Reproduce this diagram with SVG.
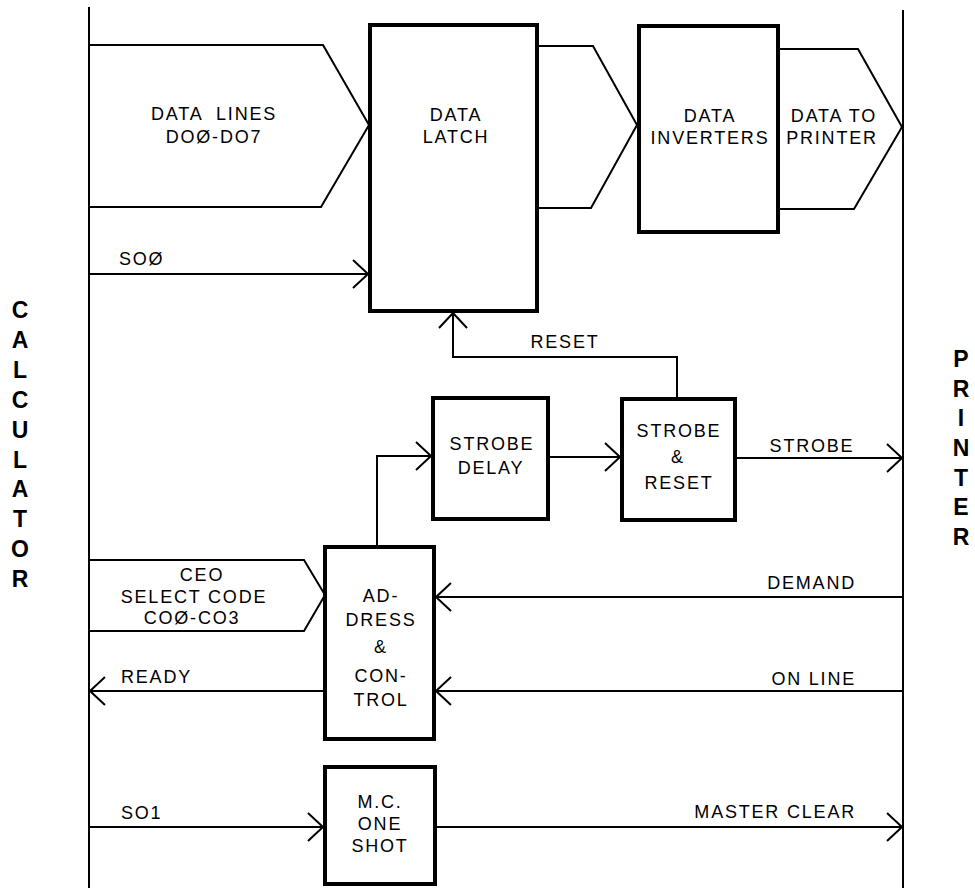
<svg xmlns="http://www.w3.org/2000/svg" width="975" height="888" viewBox="0 0 975 888">
<style>
.bx{fill:#fff;stroke:#000;stroke-width:4}
.pg{fill:none;stroke:#000;stroke-width:2;stroke-linejoin:miter}
.ln{fill:none;stroke:#000;stroke-width:2}
.ar{fill:none;stroke:#000;stroke-width:2;marker-end:url(#a)}
text{font-family:"Liberation Sans",Arial,sans-serif;font-size:18px;letter-spacing:1.8px;fill:#000}
.c{text-anchor:middle}
.r{text-anchor:end}
.pre{white-space:pre}
.side{font-size:23px;font-weight:bold;letter-spacing:0;text-anchor:middle}
</style>
<defs>
<marker id="a" markerWidth="20" markerHeight="32" refX="16" refY="15" orient="auto" markerUnits="userSpaceOnUse" overflow="visible">
<path d="M1,1 L16,15 L1,29" fill="none" stroke="#000" stroke-width="2"/>
</marker>
</defs>

<g id="borders">
<line class="ln" x1="89" y1="7" x2="89" y2="888"/>
<line class="ln" x1="903" y1="10" x2="903" y2="888"/>
</g>

<g id="calculator">
<text class="side" x="20" y="318">C</text>
<text class="side" x="20" y="348">A</text>
<text class="side" x="20" y="378">L</text>
<text class="side" x="20" y="408">C</text>
<text class="side" x="20" y="438">U</text>
<text class="side" x="20" y="468">L</text>
<text class="side" x="20" y="497">A</text>
<text class="side" x="20" y="527">T</text>
<text class="side" x="20" y="557">O</text>
<text class="side" x="20" y="587">R</text>
</g>

<g id="printer">
<text class="side" x="961" y="367">P</text>
<text class="side" x="961" y="397">R</text>
<text class="side" x="961" y="426">I</text>
<text class="side" x="961" y="456">N</text>
<text class="side" x="961" y="486">T</text>
<text class="side" x="961" y="515">E</text>
<text class="side" x="961" y="545">R</text>
</g>

<g id="data-lines">
<polyline class="pg" points="89,45 323,45 369,125 321,207 89,207"/>
<text class="c pre" x="214" y="120" xml:space="preserve">DATA  LINES</text>
<text class="c" x="214" y="143">DOØ-DO7</text>
</g>

<g id="latch-to-inverters">
<polyline class="pg" points="537,46 593,46 637,125 591,208 537,208"/>
</g>

<g id="data-to-printer">
<polyline class="pg" points="778,49 858,49 902,127 854,209 778,209"/>
<text class="c" x="834" y="122">DATA TO</text>
<text class="c" x="832" y="144">PRINTER</text>
</g>

<g id="data-latch">
<rect class="bx" x="370" y="25" width="167" height="286"/>
<text class="c" x="456" y="121">DATA</text>
<text class="c" x="456" y="143">LATCH</text>
</g>

<g id="data-inverters">
<rect class="bx" x="639" y="26" width="139" height="206"/>
<text class="c" x="710" y="122">DATA</text>
<text class="c" x="710" y="144">INVERTERS</text>
</g>

<g id="strobe-delay">
<rect class="bx" x="433" y="398" width="115" height="121"/>
<text class="c" x="492" y="450">STROBE</text>
<text class="c" x="491" y="474">DELAY</text>
</g>

<g id="strobe-reset">
<rect class="bx" x="622" y="399" width="113" height="121"/>
<text class="c" x="679" y="437">STROBE</text>
<text class="c" x="678" y="463">&amp;</text>
<text class="c" x="679" y="489">RESET</text>
</g>

<g id="ceo-select-code">
<polyline class="pg" points="89,560 304,560 325,595 304,631 89,631"/>
<text class="c" x="202" y="581">CEO</text>
<text class="c" x="194" y="603">SELECT CODE</text>
<text class="c" x="192" y="624">COØ-CO3</text>
</g>

<g id="address-control">
<rect class="bx" x="325" y="547" width="109" height="192"/>
<text class="c" x="381" y="602">AD-</text>
<text class="c" x="381" y="626">DRESS</text>
<text class="c" x="381" y="653">&amp;</text>
<text class="c" x="381" y="682">CON-</text>
<text class="c" x="381" y="706">TROL</text>
</g>

<g id="mc-one-shot">
<rect class="bx" x="325" y="767" width="110" height="117"/>
<text class="c" x="380" y="808">M.C.</text>
<text class="c" x="380" y="830">ONE</text>
<text class="c" x="380" y="852">SHOT</text>
</g>

<g id="connectors">
<line class="ar" x1="89" y1="274" x2="368" y2="274"/>
<polyline class="ar" points="677,399 677,357 453,357 453,313"/>
<polyline class="ar" points="377,547 377,456 431,456"/>
<line class="ar" x1="548" y1="457" x2="620" y2="457"/>
<line class="ar" x1="735" y1="458" x2="902" y2="458"/>
<line class="ar" x1="903" y1="597" x2="436" y2="597"/>
<line class="ar" x1="903" y1="691" x2="436" y2="691"/>
<line class="ar" x1="325" y1="691" x2="90" y2="691"/>
<line class="ar" x1="89" y1="827" x2="323" y2="827"/>
<line class="ar" x1="435" y1="827" x2="902" y2="827"/>
</g>

<g id="labels">
<text x="119" y="265">SOØ</text>
<text class="c" x="565" y="348">RESET</text>
<text class="c" x="812" y="452">STROBE</text>
<text class="r" x="856" y="589">DEMAND</text>
<text class="r" x="856" y="685">ON LINE</text>
<text x="121" y="683">READY</text>
<text x="121" y="819">SO1</text>
<text class="r" x="856" y="818">MASTER CLEAR</text>
</g>
</svg>
